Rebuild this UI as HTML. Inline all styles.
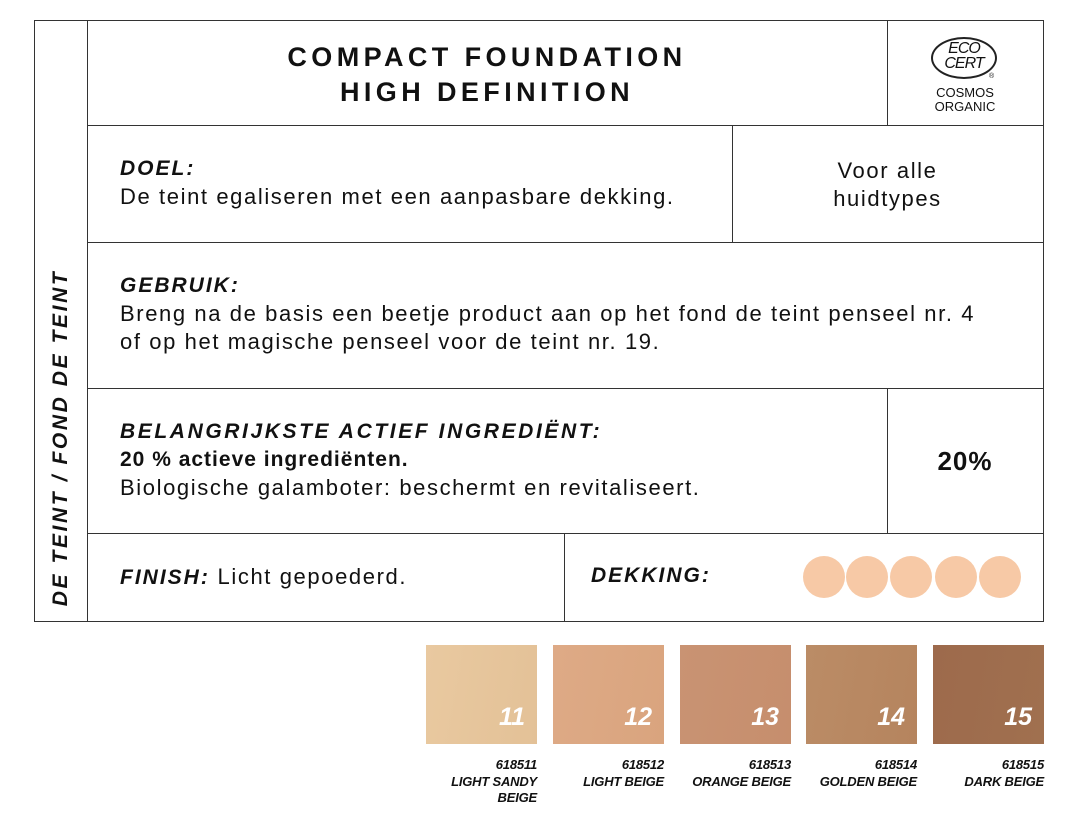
<!DOCTYPE html>
<html><head><meta charset="utf-8"><style>
body{margin:0;width:1076px;height:822px;background:#fff;position:relative;overflow:hidden;font-family:"Liberation Sans","DejaVu Sans",sans-serif;color:#111}
.a{position:absolute}
.h{background:#333;height:1px}
.v{background:#333;width:1px}
.bi{font-weight:bold;font-style:italic;letter-spacing:2px}
.t{font-size:22px;letter-spacing:1.6px}
.sw{position:absolute;top:645px;width:111px;height:99px}
.num{position:absolute;right:12px;top:58px;color:#fff;font-weight:bold;font-style:italic;font-size:25px}
.lab{position:absolute;top:757px;width:140px;text-align:right;font-size:13px;font-weight:bold;font-style:italic;line-height:16.5px;letter-spacing:-0.2px}
.c{position:absolute;top:556px;width:42px;height:42px;border-radius:50%;background:#f7c9a6}
</style></head><body>
<div class="a" style="left:34px;top:20px;width:1008px;height:600px;border:1px solid #333"></div>
<div class="a v" style="left:87px;top:20px;height:601px"></div>
<div class="a h" style="left:87px;top:125px;width:956px"></div>
<div class="a h" style="left:87px;top:242px;width:956px"></div>
<div class="a h" style="left:87px;top:388px;width:956px"></div>
<div class="a h" style="left:87px;top:533px;width:956px"></div>
<div class="a v" style="left:887px;top:20px;height:105px"></div>
<div class="a v" style="left:732px;top:125px;height:117px"></div>
<div class="a v" style="left:887px;top:388px;height:145px"></div>
<div class="a v" style="left:564px;top:533px;height:88px"></div>
<div class="a bi" style="left:61px;top:438px;transform:translate(-50%,-50%) rotate(-90deg);white-space:nowrap;font-size:21px;letter-spacing:2.6px">DE TEINT / FOND DE TEINT</div>
<div class="a" style="left:87px;top:40px;width:800px;text-align:center;font-weight:bold;font-size:27px;letter-spacing:4.4px;line-height:35px">COMPACT FOUNDATION<br>HIGH DEFINITION</div>
<div class="a" style="left:931px;top:37px;width:66px;height:42px;border:2px solid #222;border-radius:50%;box-sizing:border-box"></div>
<div class="a" style="left:931px;top:37px;width:66px;text-align:center;font-style:italic;font-size:16px;line-height:15px;letter-spacing:-1px;padding-top:4px">ECO<br>CERT</div>
<div class="a" style="left:989px;top:73px;font-size:7px">®</div>
<div class="a" style="left:887px;top:86px;width:156px;text-align:center;font-size:13px;line-height:14px">COSMOS<br>ORGANIC</div>
<div class="a bi" style="left:120px;top:157px;font-size:21px">DOEL:</div>
<div class="a t" style="left:120px;top:184px">De teint egaliseren met een aanpasbare dekking.</div>
<div class="a t" style="left:732px;top:157px;width:311px;text-align:center;line-height:28px">Voor alle<br>huidtypes</div>
<div class="a bi" style="left:120px;top:274px;font-size:21px">GEBRUIK:</div>
<div class="a t" style="left:120px;top:300px;line-height:28px;white-space:nowrap">Breng na de basis een beetje product aan op het fond de teint penseel nr. 4<br>of op het magische penseel voor de teint nr. 19.</div>
<div class="a bi" style="left:120px;top:420px;font-size:21px;letter-spacing:2.6px">BELANGRIJKSTE ACTIEF INGREDIËNT:</div>
<div class="a" style="left:120px;top:448px;font-weight:bold;font-size:21px;letter-spacing:1px">20 % actieve ingrediënten.</div>
<div class="a t" style="left:120px;top:475px">Biologische galamboter: beschermt en revitaliseert.</div>
<div class="a" style="left:887px;top:446px;width:156px;text-align:center;font-weight:bold;font-size:26px;letter-spacing:1px">20%</div>
<div class="a t" style="left:120px;top:564px"><span class="bi" style="font-size:21px">FINISH:</span> Licht gepoederd.</div>
<div class="a bi" style="left:591px;top:564px;font-size:21px">DEKKING:</div>
<div class="c" style="left:803px"></div><div class="c" style="left:846px"></div><div class="c" style="left:890px"></div><div class="c" style="left:935px"></div><div class="c" style="left:979px"></div>
<div class="sw" style="left:426px;background:linear-gradient(100deg,#e9c9a0,#e3c197)"><span class="num">11</span></div>
<div class="sw" style="left:553px;background:linear-gradient(100deg,#deaa86,#d9a47e)"><span class="num">12</span></div>
<div class="sw" style="left:680px;background:linear-gradient(100deg,#c99373,#c68e6d)"><span class="num">13</span></div>
<div class="sw" style="left:806px;background:linear-gradient(100deg,#bb8c66,#b5845e)"><span class="num">14</span></div>
<div class="sw" style="left:933px;background:linear-gradient(100deg,#9d6a4c,#a0704f)"><span class="num">15</span></div>
<div class="lab" style="left:397px">618511<br>LIGHT SANDY<br>BEIGE</div>
<div class="lab" style="left:524px">618512<br>LIGHT BEIGE</div>
<div class="lab" style="left:651px">618513<br>ORANGE BEIGE</div>
<div class="lab" style="left:777px">618514<br>GOLDEN BEIGE</div>
<div class="lab" style="left:904px">618515<br>DARK BEIGE</div>
</body></html>
